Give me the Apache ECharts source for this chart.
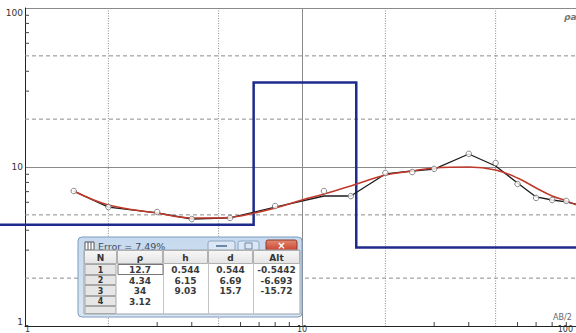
<!DOCTYPE html>
<html>
<head>
<meta charset="utf-8">
<script src="https://cdn.jsdelivr.net/npm/echarts@6/dist/echarts.min.js"></script>
<style>
  html, body { margin: 0; padding: 0; background: #fff; }
  #chart { width: 576px; height: 333px; }
</style>
</head>
<body>
<div id="chart"></div>
<script>
// Observed sounding points (AB/2 in m, apparent resistivity in Ohm·m)
const abHalf = [1.5, 2, 3, 4, 5.5, 8, 12, 15, 20, 25, 30, 40, 50, 60, 70, 80, 90];
const rhoObserved = [7.06, 5.6, 5.21, 4.71, 4.78, 5.68, 7.06, 6.56, 9.18, 9.3, 9.73, 12.1, 10.6, 7.82, 6.39, 6.2, 6.12];

// Field curve drawn through the sounding
const fieldX = [1.5, 2, 3, 4, 5.5, 8, 12, 15, 20, 25, 30, 40, 50, 60, 70, 80, 90, 100];
const rhoField = [7.06, 5.6, 5.14, 4.71, 4.78, 5.6, 6.57, 6.57, 9.04, 9.44, 9.71, 12.07, 10.15, 7.93, 6.48, 6.2, 6.03, 5.77];

// Theoretical curve of the layered model
const fitX = [1.5, 2, 3, 4, 5, 6, 8, 10, 12, 15, 20, 25, 30, 40, 50, 60, 70, 80, 90, 100];
const rhoFit = [7.06, 5.77, 5.14, 4.78, 4.78, 4.92, 5.52, 6.2, 6.76, 7.6, 8.9, 9.44, 9.86, 10.0, 9.58, 8.53, 7.38, 6.57, 6.12, 5.68];

// Layer model
const layerN = ['1', '2', '3', '4'];
const layerRho = [12.7, 4.34, 34, 3.12];
const layerH = [0.544, 6.15, 9.03];
const layerD = [0.544, 6.69, 15.7];
const layerAlt = ['-0.5442', '-6.693', '-15.72'];
const errorText = 'Error = 7.49%';
const tableHeaders = ['N', 'ρ', 'h', 'd', 'Alt'];

// Axis decorations
const gridXValues = [2, 5, 20, 50];
const gridYValues = [2, 5, 20, 50];
const minorTickValues = [3, 4, 6, 7, 8, 9, 30, 40, 60, 70, 80, 90];

// Step line of the model: resistivity of each layer down to its bottom depth
const modelStep = [];
(function () {
  let top = 0.1;
  layerRho.forEach((rho, i) => {
    const bottom = i < layerD.length ? layerD[i] : 1000;
    modelStep.push([top, rho]);
    modelStep.push([bottom, rho]);
    top = bottom;
  });
})();

const chart = echarts.init(document.getElementById('chart'), null, { renderer: 'svg' });

const axisCommon = {
  type: 'log',
  logBase: 10,
  min: 1,
  max: 100,
  axisLine: { show: true, onZero: false, lineStyle: { color: '#222', width: 1 } },
  axisTick: { show: false },
  splitLine: { show: true, lineStyle: { color: '#8a8a8a', width: 1, type: 'solid' } },
  axisLabel: { color: '#333', fontSize: 9, fontFamily: 'DejaVu Sans' }
};

// Table window drawn over the lower-left part of the plot
function buildTable() {
  const els = [];
  const wx = 78, wy = 237, ww = 224, wh = 80;
  els.push({ type: 'rect', shape: { x: wx, y: wy, width: ww, height: wh, r: 4 },
    style: { fill: new echarts.graphic.LinearGradient(0, 0, 0, 1, [
      { offset: 0, color: '#c6d9ee' }, { offset: 1, color: '#d9e6f4' }]), stroke: '#7d9cbf', lineWidth: 1 } });
  // title icon
  els.push({ type: 'rect', shape: { x: 85, y: 242, width: 9, height: 8 }, style: { fill: '#fff', stroke: '#555', lineWidth: 1 } });
  els.push({ type: 'line', shape: { x1: 88, y1: 242, x2: 88, y2: 250 }, style: { stroke: '#555', lineWidth: 1 } });
  els.push({ type: 'line', shape: { x1: 91, y1: 242, x2: 91, y2: 250 }, style: { stroke: '#555', lineWidth: 1 } });
  els.push({ type: 'text', x: 98, y: 246, style: { text: errorText, font: '9.5px "DejaVu Sans"', fill: '#3b4e66',
    textAlign: 'left', textVerticalAlign: 'middle', align: 'left', verticalAlign: 'middle' } });
  // caption buttons
  els.push({ type: 'rect', shape: { x: 208, y: 241, width: 27, height: 10, r: 2 },
    style: { fill: '#dbe7f4', stroke: '#8ea7c4', lineWidth: 1 } });
  els.push({ type: 'rect', shape: { x: 216, y: 245, width: 11, height: 2 }, style: { fill: '#6d87a8' } });
  els.push({ type: 'rect', shape: { x: 238, y: 241, width: 21, height: 10, r: 2 },
    style: { fill: '#dbe7f4', stroke: '#8ea7c4', lineWidth: 1 } });
  els.push({ type: 'rect', shape: { x: 245, y: 243, width: 7, height: 6 }, style: { fill: 'none', stroke: '#6d87a8', lineWidth: 1 } });
  els.push({ type: 'rect', shape: { x: 266, y: 240, width: 31, height: 11, r: 2 },
    style: { fill: new echarts.graphic.LinearGradient(0, 0, 0, 1, [
      { offset: 0, color: '#e2896f' }, { offset: 1, color: '#c8402b' }]), stroke: '#8e3a2e', lineWidth: 1 } });
  els.push({ type: 'text', x: 281.5, y: 245.5, style: { text: '×', font: 'bold 10px "DejaVu Sans"', fill: '#fff',
    textAlign: 'center', textVerticalAlign: 'middle', align: 'center', verticalAlign: 'middle' } });

  // table body
  const colX = [84, 117, 163, 208, 253, 300];
  const rowY = [250, 264, 275, 285, 296, 306, 314];
  els.push({ type: 'rect', shape: { x: 84, y: 250, width: 216, height: 64 }, style: { fill: '#fff', stroke: '#9aa3ad', lineWidth: 1 } });
  // header cells
  for (let c = 0; c < 5; c++) {
    els.push({ type: 'rect', shape: { x: colX[c] + 0.5, y: 250.5, width: colX[c + 1] - colX[c] - 1, height: 13 },
      style: { fill: new echarts.graphic.LinearGradient(0, 0, 0, 1, [
        { offset: 0, color: '#f7f7f7' }, { offset: 1, color: '#e4e4e4' }]), stroke: '#b0b0b0', lineWidth: 1 } });
    els.push({ type: 'text', x: (colX[c] + colX[c + 1]) / 2, y: 257.5, style: { text: tableHeaders[c],
      font: 'bold 9px "DejaVu Sans"', fill: '#333', textAlign: 'center', textVerticalAlign: 'middle', align: 'center', verticalAlign: 'middle' } });
  }
  // row number cells
  for (let r = 0; r < 5; r++) {
    els.push({ type: 'rect', shape: { x: 85, y: rowY[r + 1] + 0.5, width: 31, height: rowY[r + 2] - rowY[r + 1] - 1 },
      style: { fill: '#e6e6e6', stroke: '#a8a8a8', lineWidth: 1 } });
    if (r < layerN.length) {
      els.push({ type: 'text', x: 100.5, y: (rowY[r + 1] + rowY[r + 2]) / 2 + 0.5, style: { text: layerN[r],
        font: 'bold 8px "DejaVu Sans"', fill: '#333', textAlign: 'center', textVerticalAlign: 'middle', align: 'center', verticalAlign: 'middle' } });
    }
  }
  // column separators
  for (let c = 2; c < 5; c++) {
    els.push({ type: 'line', shape: { x1: colX[c] + 0.5, y1: 264, x2: colX[c] + 0.5, y2: 314 }, style: { stroke: '#c4c4c4', lineWidth: 1 } });
  }
  // selected cell
  els.push({ type: 'rect', shape: { x: 118, y: 264.5, width: 45, height: 10 }, style: { fill: 'none', stroke: '#777', lineWidth: 1 } });
  // values
  const cols = [layerRho.map(String), layerH.map(String), layerD.map(String), layerAlt];
  cols.forEach((col, ci) => {
    col.forEach((txt, r) => {
      els.push({ type: 'text', x: (colX[ci + 1] + colX[ci + 2]) / 2, y: (rowY[r + 1] + rowY[r + 2]) / 2 + 0.5,
        style: { text: txt, font: 'bold 9px "DejaVu Sans"', fill: '#3a3a3a',
          textAlign: 'center', textVerticalAlign: 'middle', align: 'center', verticalAlign: 'middle' } });
    });
  });
  return els.map(e => Object.assign({ z: 100 }, e));
}

const option = {
  backgroundColor: '#fff',
  animation: false,
  grid: { left: 25, top: 8, width: 554, height: 318, containLabel: false, outerBoundsMode: 'none' },
  xAxis: Object.assign({}, axisCommon, {
    axisLabel: Object.assign({}, axisCommon.axisLabel, {
      fontSize: 8, lineHeight: 8, margin: -1,
      alignMinLabel: 'left', alignMaxLabel: 'right',
      // keep the last decade label inside the right edge
      formatter: function (v) { return v >= 100 ? '{last|' + v + '}' : String(v); },
      rich: { last: { fontSize: 8, lineHeight: 8, color: '#333', fontFamily: 'DejaVu Sans', padding: [0, 6, 0, 0] } }
    })
  }),
  yAxis: Object.assign({}, axisCommon, {
    axisLabel: Object.assign({}, axisCommon.axisLabel, {
      margin: 2, verticalAlignMaxLabel: 'top', verticalAlignMinLabel: 'bottom'
    })
  }),
  series: [
    {
      // vertical dotted grid lines
      type: 'custom',
      silent: true,
      z: 1,
      data: gridXValues.map(v => [v, 1]),
      renderItem: function (params, api) {
        const a = api.coord([api.value(0), 100]);
        const b = api.coord([api.value(0), 1]);
        return { type: 'line', shape: { x1: a[0], y1: a[1], x2: b[0], y2: b[1] },
          style: { stroke: '#8c8c8c', lineWidth: 1, lineDash: [1, 1.5] } };
      }
    },
    {
      // horizontal dashed grid lines
      type: 'custom',
      silent: true,
      z: 1,
      data: gridYValues.map(v => [1, v]),
      renderItem: function (params, api) {
        const a = api.coord([1, api.value(1)]);
        const b = api.coord([100, api.value(1)]);
        return { type: 'line', shape: { x1: a[0], y1: a[1], x2: b[0], y2: b[1] },
          style: { stroke: '#8c8c8c', lineWidth: 1, lineDash: [4, 3] } };
      }
    },
    {
      // minor ticks on both axes
      type: 'custom',
      silent: true,
      z: 1,
      data: minorTickValues.map(v => [v, v]),
      renderItem: function (params, api) {
        const v = api.value(0);
        const px = api.coord([v, 1]);
        const py = api.coord([1, v]);
        return { type: 'group', children: [
          { type: 'line', shape: { x1: px[0], y1: px[1], x2: px[0], y2: px[1] - 4 }, style: { stroke: '#444', lineWidth: 1 } },
          { type: 'line', shape: { x1: py[0], y1: py[1], x2: py[0] + 4, y2: py[1] }, style: { stroke: '#444', lineWidth: 1 } }
        ] };
      }
    },
    {
      // layered model as a step polyline, allowed to run past the axes
      name: 'model',
      type: 'custom',
      silent: true,
      clip: false,
      z: 3,
      data: [[1, 1]],
      renderItem: function (params, api) {
        const pts = modelStep.map(p => api.coord(p));
        return { type: 'polyline', shape: { points: pts },
          style: { stroke: '#1f2b8c', lineWidth: 2.5, fill: null } };
      }
    },
    {
      name: 'field',
      type: 'line',
      data: fieldX.map((x, i) => [x, rhoField[i]]),
      showSymbol: false,
      z: 4,
      lineStyle: { color: '#1c1c1c', width: 1.3 }
    },
    {
      name: 'fit',
      type: 'line',
      data: fitX.map((x, i) => [x, rhoFit[i]]),
      smooth: 0.4,
      showSymbol: false,
      z: 5,
      lineStyle: { color: '#c0392b', width: 1.5 }
    },
    {
      name: 'observed',
      type: 'scatter',
      data: abHalf.map((x, i) => [x, rhoObserved[i]]),
      symbol: 'circle',
      symbolSize: 5.5,
      z: 6,
      itemStyle: { color: '#fff', borderColor: '#6a6a6a', borderWidth: 1 }
    }
  ],
  graphic: {
    elements: [
      { type: 'text', left: 553, top: 313, z: 50, style: { text: 'AB/2', font: '8px "DejaVu Sans"', fill: '#666' } },
      { type: 'text', left: 564, top: 12, z: 50, style: { text: 'ρa', font: 'italic bold 9px "DejaVu Sans"', fill: '#777' } }
    ].concat(buildTable())
  }
};

chart.setOption(option);
</script>
</body>
</html>
